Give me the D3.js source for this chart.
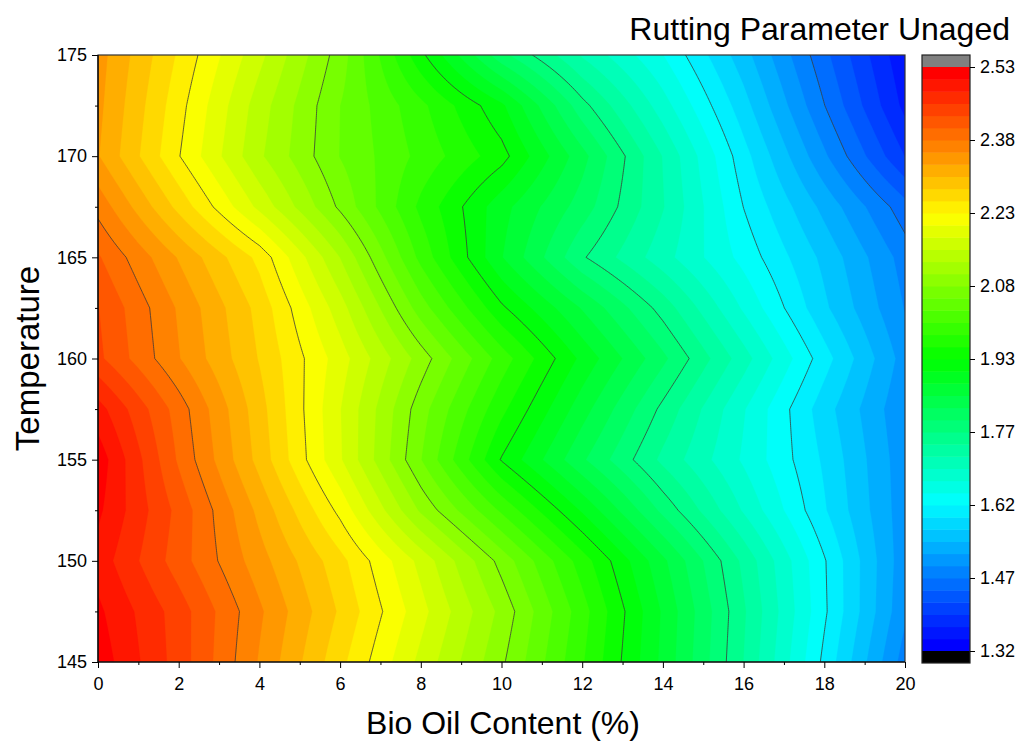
<!DOCTYPE html>
<html>
<head>
<meta charset="utf-8">
<script src="https://cdn.jsdelivr.net/npm/d3@7"></script>
<style>
  html, body { margin: 0; padding: 0; background: #fff; }
  svg { display: block; font-family: "Liberation Sans", Arial, sans-serif; }
</style>
</head>
<body>
<svg id="chart" width="1029" height="744"></svg>
<script>
// ---------------- data ----------------
const bioOil = [0, 2, 4, 6, 8, 10, 12, 14, 16, 18, 20];          // x (%)
const temperature = [145, 147.5, 150, 152.5, 155, 157.5, 160, 162.5, 165, 167.5, 170, 172.5, 175]; // y
// rutting parameter, one row per temperature (bottom to top)
const z145   = [2.520, 2.443, 2.351, 2.260, 2.170, 2.081, 1.978, 1.868, 1.748, 1.616, 1.484];
const z147_5 = [2.510, 2.442, 2.358, 2.274, 2.186, 2.094, 1.986, 1.871, 1.752, 1.627, 1.501];
const z150   = [2.494, 2.416, 2.339, 2.261, 2.169, 2.067, 1.963, 1.855, 1.742, 1.625, 1.505];
const z152_5 = [2.510, 2.421, 2.321, 2.220, 2.097, 1.996, 1.896, 1.792, 1.695, 1.600, 1.506];
const z155   = [2.520, 2.400, 2.294, 2.180, 2.052, 1.923, 1.828, 1.742, 1.669, 1.593, 1.505];
const z157_5 = [2.490, 2.392, 2.288, 2.178, 2.062, 1.957, 1.860, 1.767, 1.675, 1.583, 1.500];
const z160   = [2.435, 2.355, 2.276, 2.189, 2.090, 1.989, 1.893, 1.805, 1.709, 1.608, 1.510];
const z162_5 = [2.430, 2.350, 2.269, 2.163, 2.038, 1.930, 1.847, 1.763, 1.669, 1.577, 1.495];
const z165   = [2.407, 2.326, 2.245, 2.126, 1.993, 1.876, 1.777, 1.708, 1.639, 1.565, 1.485];
const z167_5 = [2.370, 2.270, 2.170, 2.071, 1.969, 1.884, 1.812, 1.725, 1.622, 1.539, 1.456];
const z170   = [2.330, 2.229, 2.131, 2.050, 1.993, 1.935, 1.833, 1.722, 1.607, 1.501, 1.395];
const z172_5 = [2.335, 2.237, 2.139, 2.051, 1.982, 1.905, 1.783, 1.684, 1.582, 1.472, 1.363];
const z175   = [2.339, 2.249, 2.159, 2.064, 1.932, 1.807, 1.720, 1.648, 1.557, 1.453, 1.350];
const zRows = [z145, z147_5, z150, z152_5, z155, z157_5, z160, z162_5, z165, z167_5, z170, z172_5, z175];

const zMin = 1.32, zMax = 2.53, nLevels = 48;
const xTicks = [0, 2, 4, 6, 8, 10, 12, 14, 16, 18, 20];
const xMinorTicks = [1, 3, 5, 7, 9, 11, 13, 15, 17, 19];
const yTicks = [145, 150, 155, 160, 165, 170, 175];
const yMinorTicks = [147.5, 152.5, 157.5, 162.5, 167.5, 172.5];
const cbTickLabels = ["1.32", "1.47", "1.62", "1.77", "1.93", "2.08", "2.23", "2.38", "2.53"];
const lineEvery = 6;

// ---------------- layout ----------------
const svg = d3.select("#chart");
const L = 98, R = 905, T = 55, B = 662;
const x = d3.scaleLinear().domain([0, 20]).range([L, R]);
const y = d3.scaleLinear().domain([145, 175]).range([B, T]);

// ---------------- fine grid (bilinear rendering of the data grid) -------------
const nx = 401, ny = 301;
const fx = d3.scaleLinear().domain([0, nx - 1]).range([0, 20]);
const fy = d3.scaleLinear().domain([0, ny - 1]).range([145, 175]);
function sample(xv, yv) {
  let i = d3.bisectRight(bioOil, xv) - 1; i = Math.max(0, Math.min(bioOil.length - 2, i));
  let j = d3.bisectRight(temperature, yv) - 1; j = Math.max(0, Math.min(temperature.length - 2, j));
  const tx = (xv - bioOil[i]) / (bioOil[i + 1] - bioOil[i]);
  const ty = (yv - temperature[j]) / (temperature[j + 1] - temperature[j]);
  const a = zRows[j][i], b = zRows[j][i + 1], c = zRows[j + 1][i], d = zRows[j + 1][i + 1];
  return (a * (1 - tx) + b * tx) * (1 - ty) + (c * (1 - tx) + d * tx) * ty;
}
const values = new Array(nx * ny);
for (let j = 0; j < ny; j++) for (let i = 0; i < nx; i++) values[j * nx + i] = sample(fx(i), fy(j));

const step = (zMax - zMin) / nLevels;
const thresholds = d3.range(nLevels + 1).map(k => zMin + k * step);

const rainbow = d3.scaleLinear()
  .domain([0, 0.25, 0.5, 0.75, 1])
  .range(["#0000ff", "#00ffff", "#00ff00", "#ffff00", "#ff0000"])
  .interpolate(d3.interpolateRgb);
const bandColor = k => k >= nLevels ? "#808080" : rainbow(k / (nLevels - 1));

const proj = d3.geoTransform({
  point: function (px, py) {
    this.stream.point(x(fx(px - 0.5)), y(fy(py - 0.5)));
  }
});
const path = d3.geoPath(proj);
const contours = d3.contours().size([nx, ny]).thresholds(thresholds)(values);

svg.append("defs").append("clipPath").attr("id", "clip")
  .append("rect").attr("x", L).attr("y", T).attr("width", R - L).attr("height", B - T);

const plot = svg.append("g").attr("clip-path", "url(#clip)");
plot.append("rect").attr("x", L).attr("y", T).attr("width", R - L).attr("height", B - T).attr("fill", "#000");
plot.selectAll("path.band").data(contours).join("path")
  .attr("class", "band")
  .attr("d", path)
  .attr("fill", (d, k) => bandColor(k))
  .attr("stroke", (d, k) => bandColor(k))
  .attr("stroke-width", 0.3);

const lineLevels = contours.filter((d, k) => k > 0 && k < nLevels && k % lineEvery === 0);
plot.selectAll("path.iso").data(lineLevels).join("path")
  .attr("class", "iso")
  .attr("d", path)
  .attr("fill", "none")
  .attr("stroke", "#3a3a3a")
  .attr("stroke-width", 0.8);

// frame
svg.append("rect").attr("x", L).attr("y", T).attr("width", R - L).attr("height", B - T)
  .attr("fill", "none").attr("stroke", "#333").attr("stroke-width", 1.2);

// ---------------- axes ----------------
const tickFont = 18;
const axisStyle = g => {
  g.select(".domain").remove();
  g.selectAll(".tick line").attr("stroke", "#000").attr("stroke-width", 1);
  g.selectAll(".tick text").attr("fill", "#000").attr("font-size", tickFont)
    .attr("font-family", "Liberation Sans, Arial, sans-serif");
};
svg.append("g").attr("transform", `translate(0,${B})`)
  .call(d3.axisBottom(x).tickValues(xTicks).tickSize(6).tickPadding(9).tickFormat(d3.format("d")))
  .call(axisStyle);
svg.append("g").attr("transform", `translate(0,${B})`)
  .call(d3.axisBottom(x).tickValues(xMinorTicks).tickSize(3).tickFormat(""))
  .call(axisStyle);
svg.append("g").attr("transform", `translate(${L},0)`)
  .call(d3.axisLeft(y).tickValues(yTicks).tickSize(6).tickPadding(5).tickFormat(d3.format("d")))
  .call(axisStyle);
svg.append("g").attr("transform", `translate(${L},0)`)
  .call(d3.axisLeft(y).tickValues(yMinorTicks).tickSize(3).tickFormat(""))
  .call(axisStyle);

svg.append("line").attr("x1", L).attr("x2", R).attr("y1", B).attr("y2", B).attr("stroke", "#000").attr("stroke-width", 1.2);
svg.append("line").attr("x1", L).attr("x2", L).attr("y1", T).attr("y2", B).attr("stroke", "#000").attr("stroke-width", 1.2);

svg.append("text").attr("x", 503).attr("y", 734).attr("text-anchor", "middle")
  .attr("font-size", 32).attr("fill", "#000").text("Bio Oil Content (%)");
svg.append("text").attr("transform", `translate(39,${(T + B) / 2}) rotate(-90)`)
  .attr("text-anchor", "middle").attr("font-size", 33).attr("fill", "#000").text("Temperature");
svg.append("text").attr("x", 1010).attr("y", 40).attr("text-anchor", "end")
  .attr("font-size", 32).attr("fill", "#000").text("Rutting Parameter Unaged");

// ---------------- colour bar ----------------
const cbL = 922, cbW = 48, cbTop = 67, cbBot = 651, cbOver = 12;
const cy = d3.scaleLinear().domain([zMin, zMax]).range([cbBot, cbTop]);
const cb = svg.append("g");
cb.selectAll("rect.cb").data(d3.range(nLevels)).join("rect")
  .attr("class", "cb")
  .attr("x", cbL).attr("width", cbW)
  .attr("y", k => cy(thresholds[k + 1]))
  .attr("height", k => cy(thresholds[k]) - cy(thresholds[k + 1]) + 0.5)
  .attr("fill", k => bandColor(k));
cb.append("rect").attr("x", cbL).attr("width", cbW).attr("y", cbTop - cbOver).attr("height", cbOver).attr("fill", "#808080");
cb.append("rect").attr("x", cbL).attr("width", cbW).attr("y", cbBot).attr("height", cbOver).attr("fill", "#000");
cb.append("rect").attr("x", cbL).attr("width", cbW).attr("y", cbTop - cbOver).attr("height", cbBot - cbTop + 2 * cbOver)
  .attr("fill", "none").attr("stroke", "#222").attr("stroke-width", 1.2);

const cbTickVals = cbTickLabels.map((s, i) => zMin + i * lineEvery * step);
svg.append("g").attr("transform", `translate(${cbL + cbW},0)`)
  .call(d3.axisRight(cy).tickValues(cbTickVals).tickSize(5).tickPadding(5)
    .tickFormat((d, i) => cbTickLabels[i]))
  .call(axisStyle);
</script>
</body>
</html>
